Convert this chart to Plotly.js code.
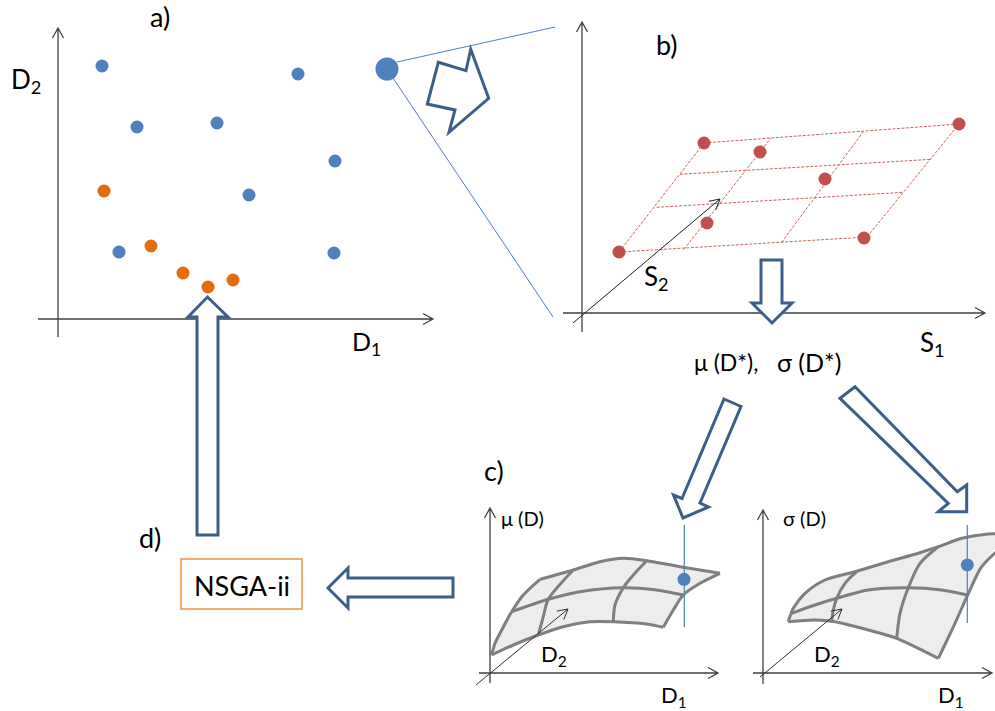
<!DOCTYPE html>
<html>
<head>
<meta charset="utf-8">
<script src="https://cdn.plot.ly/plotly-3.0.1.min.js"></script>
<style>html,body{margin:0;padding:0;background:#ffffff;}</style>
</head>
<body>
<div id="chart" style="width:995px;height:711px;"></div>
<script>
// ---------------- DATA (page coordinates: x to the right, y downward) ----------------
// Panel a) design points in the D1-D2 plane
const panelA_blue_x   = [102, 298, 137, 217, 335, 249, 119, 334];
const panelA_blue_y   = [66, 74, 127, 123, 161, 195, 252, 253];
const panelA_orange_x = [104, 151, 183, 208, 233];
const panelA_orange_y = [191, 246, 273, 287, 280];
const panelA_selected_x = [387];
const panelA_selected_y = [69];

// Panel b) sampled scenarios in S1-S2
const panelB_red_x = [704, 760, 959, 825, 707, 619, 864];
const panelB_red_y = [143, 152, 124, 179, 223, 252, 238];

// Panel c) response surfaces: mu(D)
const muLeft_x   = [491.7, 495, 501.7, 511.7, 523.3, 540];
const muLeft_y   = [655, 643.3, 630, 611.7, 595, 579.3];
const muTop_x    = [540, 573.3, 600, 623.3, 646.7, 680, 720];
const muTop_y    = [579.3, 570, 561.7, 558.3, 560.7, 566.7, 573.3];
const muRight_x  = [720, 700, 683.3, 673.3, 663.3];
const muRight_y  = [573.3, 583.3, 595, 610, 627.3];
const muBottom_x = [663.3, 646.7, 613.3, 590, 563.3, 538.3, 513.3, 491.7];
const muBottom_y = [627.3, 624, 621.7, 621.7, 626.7, 635, 645, 655];
const muRow_x    = [511.7, 548.3, 580, 623.3, 656.7, 683.3];
const muRow_y    = [611.7, 599.3, 591.7, 587.7, 590, 595];
const muCol1_x   = [573.3, 548.3, 543.3, 538.3];
const muCol1_y   = [570, 599.3, 616.7, 635];
const muCol2_x   = [646.7, 633.3, 623.3, 615, 613.3];
const muCol2_y   = [560.7, 575, 587.7, 605, 621.7];
const muPoint_x  = [684];
const muPoint_y  = [579.3];

// Panel c) response surfaces: sigma(D)
const sdTop_x    = [788.3, 793.3, 805, 825, 855, 888.3, 918.3, 938.3, 961.7, 988.3, 1002];
const sdTop_y    = [621.7, 608.3, 593.3, 580, 571.7, 561.7, 553.3, 546.7, 538.3, 534, 534];
const sdRight_x  = [1002, 981.7, 967.7, 955, 938.3];
const sdRight_y  = [546.7, 566.7, 595, 623.3, 658.3];
const sdBottom_x = [938.3, 918.3, 896.7, 868.3, 835, 815, 788.3];
const sdBottom_y = [658.3, 648.3, 638.3, 630, 621.7, 620, 621.7];
const sdRow_x    = [791.7, 815, 836.7, 868.3, 908.3, 941.7, 967.7];
const sdRow_y    = [613.3, 605, 598.3, 590, 587.7, 590, 595];
const sdCol1_x   = [856.7, 845, 836.7, 833.3, 831.7];
const sdCol1_y   = [571.7, 583.3, 598.3, 610, 621.7];
const sdCol2_x   = [938.3, 920, 908.3, 900, 896.7];
const sdCol2_y   = [546.7, 563.3, 587.7, 613.3, 638.3];
const sdPoint_x  = [967.3];
const sdPoint_y  = [565];

// Labels
const labelFont = 'Lato, sans-serif';

// ---------------- helpers (geometry for decorations) ----------------
function seg(a, b) { return `M${a[0]},${a[1]}L${b[0]},${b[1]}`; }
function head(a, b, L, W) {
  const dx = b[0]-a[0], dy = b[1]-a[1], d = Math.hypot(dx, dy);
  const ux = dx/d, uy = dy/d, px = -uy, py = ux;
  const bx = b[0]-ux*L, by = b[1]-uy*L;
  return `M${bx+px*W},${by+py*W}L${b[0]},${b[1]}L${bx-px*W},${by-py*W}`;
}
function poly(pts) { return 'M' + pts.map(p => p[0] + ',' + p[1]).join('L') + 'Z'; }

const shapes = [];
function axisArrow(a, b, color, width) {
  shapes.push({type:'path', xref:'x', yref:'y', layer:'above', path: seg(a,b) + head(a,b,10,5.5),
               line:{color:color, width:width}});
}
const axisCol = '#404040';
// panel a axes
axisArrow([58,337],[58,28], axisCol, 1.3);
axisArrow([38,319],[433,319], axisCol, 1.3);
// panel b axes
axisArrow([582,332],[582,22], axisCol, 1.3);
axisArrow([563,313],[985,313], axisCol, 1.3);
axisArrow([573,323],[720,199], '#202020', 1);
// panel c axes
axisArrow([490,683],[490,508], axisCol, 1.3);
axisArrow([479,673],[718,673], axisCol, 1.3);
axisArrow([476,685],[568,609], '#303030', 1);
axisArrow([763,684],[763,510], axisCol, 1.3);
axisArrow([753,673],[992,673], axisCol, 1.3);
axisArrow([760,677],[842,609], '#303030', 1);

// zoom lines from selected point (below the dot)
shapes.push({type:'path', xref:'x', yref:'y', layer:'below', path: seg([397,62],[555,27]), line:{color:'#4F81BD', width:1}});
shapes.push({type:'path', xref:'x', yref:'y', layer:'below', path: seg([393,78],[553,317]), line:{color:'#4F81BD', width:1}});

// red dashed grid in panel b (below the dots)
const gridSegs = [
  [[619,252],[867,237]], [[656.7,207.3],[903.3,192.3]], [[680,174.3],[931.7,159.3]], [[704,143],[959,124]],
  [[619,252],[704,143]], [[684,249.3],[770.7,138.3]], [[781.7,242.3],[863.3,131.7]], [[867,237],[959,124]]
];
gridSegs.forEach(s => shapes.push({type:'path', xref:'x', yref:'y', layer:'below', path: seg(s[0], s[1]),
  line:{color:'#D06060', width:1, dash:'3px,1.5px'}}));

// vertical blue lines in panel c
shapes.push({type:'path', xref:'x', yref:'y', layer:'above', path: seg([684.3,525],[684.3,627]), line:{color:'#4F81BD', width:1.2}});
shapes.push({type:'path', xref:'x', yref:'y', layer:'above', path: seg([967.3,525],[967.3,623]), line:{color:'#4F81BD', width:1.2}});

// block arrows
const arrowCol = '#3C5E8B';
function block(pts) {
  shapes.push({type:'path', xref:'x', yref:'y', layer:'above', path: poly(pts),
               fillcolor:'#ffffff', line:{color:arrowCol, width:3}});
}
block([[197,535],[218,535],[218,317],[228,317],[207.5,297],[188,317],[197,317]]);          // up to a)
block([[761,260],[782,260],[782,303],[792,303],[772,323],[752,303],[761,303]]);            // down in b)
block([[453,578],[453,597],[348,597],[348,608],[328,588],[348,568],[348,578]]);            // left to NSGA
block([[438.3,62.3],[466,70.7],[470.7,49.3],[488.7,98.3],[449,132.3],[455,110],[427.3,104]]); // jagged
block([[724,399],[741,406.5],[700,503],[708.5,507],[683,518],[673.5,495],[682,498.5]]);    // to mu
block([[840,398.3],[855,386.7],[957.3,491.7],[966.7,485],[966.7,511.7],[938.3,511.7],[948.3,503.3]]); // to sigma

// NSGA-ii box
shapes.push({type:'rect', xref:'x', yref:'y', layer:'above', x0:181, x1:302, y0:559, y1:609,
             line:{color:'#F3913F', width:1.5}, fillcolor:'rgba(0,0,0,0)'});

// ---------------- traces ----------------
const traces = [];
const surfFill = '#EDEDED', surfLine = '#7F7F7F';
function cat(arrs) { let out = []; arrs.forEach((a, i) => { out = out.concat(i === 0 ? a : a.slice(1)); }); return out; }
// fills
traces.push({x: cat([muLeft_x, muTop_x, muRight_x, muBottom_x]), y: cat([muLeft_y, muTop_y, muRight_y, muBottom_y]),
  mode:'lines', fill:'toself', fillcolor:surfFill, line:{width:0, shape:'spline', smoothing:0.8}, hoverinfo:'skip'});
traces.push({x: cat([sdTop_x, sdRight_x, sdBottom_x]), y: cat([sdTop_y, sdRight_y, sdBottom_y]),
  mode:'lines', fill:'toself', fillcolor:surfFill, line:{width:0, shape:'spline', smoothing:0.8}, hoverinfo:'skip'});
// mesh lines
[[muLeft_x,muLeft_y],[muTop_x,muTop_y],[muRight_x,muRight_y],[muBottom_x,muBottom_y],[muRow_x,muRow_y],[muCol1_x,muCol1_y],[muCol2_x,muCol2_y],
 [sdTop_x,sdTop_y],[sdRight_x,sdRight_y],[sdBottom_x,sdBottom_y],[sdRow_x,sdRow_y],[sdCol1_x,sdCol1_y],[sdCol2_x,sdCol2_y]].forEach(p => {
  traces.push({x:p[0], y:p[1], mode:'lines', line:{color:surfLine, width:3, shape:'spline', smoothing:0.8}, hoverinfo:'skip'});
});
// points
traces.push({x:panelA_blue_x, y:panelA_blue_y, mode:'markers', marker:{size:13, color:'#4F81BD'}});
traces.push({x:panelA_orange_x, y:panelA_orange_y, mode:'markers', marker:{size:13, color:'#E46C0A'}});
traces.push({x:panelA_selected_x, y:panelA_selected_y, mode:'markers', marker:{size:23, color:'#4F81BD'}});
traces.push({x:panelB_red_x, y:panelB_red_y, mode:'markers', marker:{size:13, color:'#C0504D'}});
traces.push({x:muPoint_x, y:muPoint_y, mode:'markers', marker:{size:13, color:'#4F81BD'}});
traces.push({x:sdPoint_x, y:sdPoint_y, mode:'markers', marker:{size:13, color:'#4F81BD'}});

// ---------------- annotations ----------------
function lab(text, x, y, size, anchor) {
  return {text:text, x:x, y:y, xref:'x', yref:'y', showarrow:false, xanchor:anchor || 'center', yanchor:'middle',
          font:{family:labelFont, size:size, color:'#000000'}};
}
const annotations = [
  lab('a)', 160, 16, 27),
  lab('D<sub>2</sub>', 26, 80, 26),
  lab('D<sub>1</sub>', 366, 343, 25),
  lab('b)', 667, 44, 27),
  lab('S<sub>2</sub>', 656, 277, 26),
  lab('S<sub>1</sub>', 932, 343, 26),
  lab('μ (D*),', 692, 362, 23, 'left'),
  lab('σ (D*)', 775, 362, 25, 'left'),
  lab('c)', 494, 470, 27),
  lab('μ (D)', 499, 518, 20, 'left'),
  lab('σ (D)', 781, 518, 20, 'left'),
  lab('D<sub>2</sub>', 554, 655, 22),
  lab('D<sub>2</sub>', 827, 655, 22),
  lab('D<sub>1</sub>', 674, 696, 22),
  lab('D<sub>1</sub>', 951, 696, 22),
  lab('d)', 150, 537, 27),
  lab('NSGA-ii', 241.5, 585, 27)
];

const ax = {showgrid:false, zeroline:false, showticklabels:false, ticks:'', showline:false, fixedrange:true};
const layout = {
  width:995, height:711, margin:{l:0, r:0, t:0, b:0},
  paper_bgcolor:'#ffffff', plot_bgcolor:'#ffffff', showlegend:false,
  xaxis: Object.assign({range:[0,995]}, ax),
  yaxis: Object.assign({range:[711,0]}, ax),
  shapes: shapes, annotations: annotations, hovermode:false
};
Plotly.newPlot('chart', traces, layout, {staticPlot:true, displayModeBar:false});
</script>
</body>
</html>
